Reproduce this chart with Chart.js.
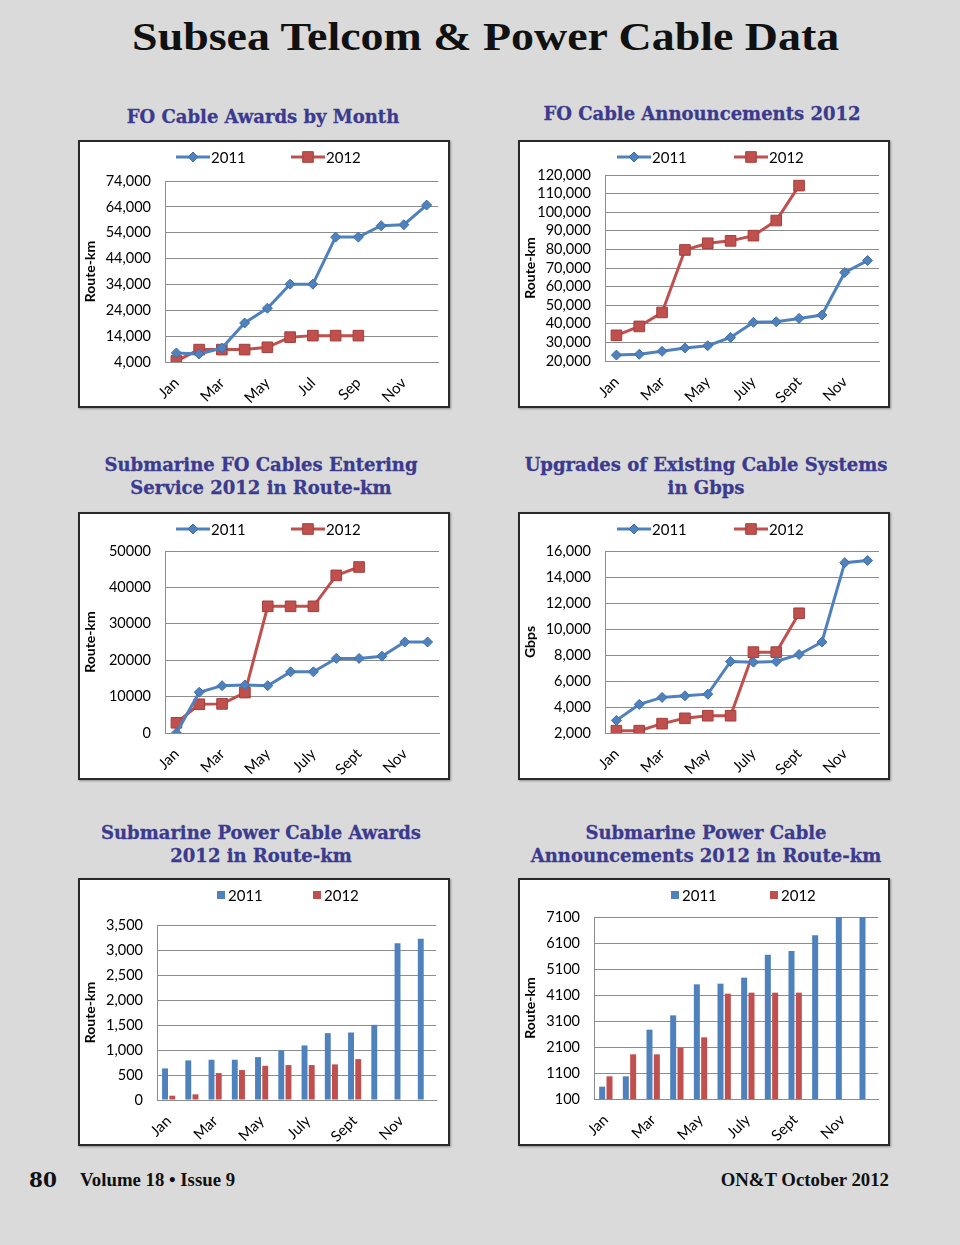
<!DOCTYPE html>
<html>
<head>
<meta charset="utf-8">
<script src="https://cdn.jsdelivr.net/npm/chart.js@4.4.1/dist/chart.umd.min.js"></script>
<style>
  body { margin: 0; background: #d9dad9; }
  #page { position: relative; width: 960px; height: 1245px; background: #d9dad9; overflow: hidden; }
  #mainTitle { position: absolute; left: 6px; width: 960px; top: 12px; text-align: center; }
  #mainTitle span { display: inline-block; transform: scaleX(1.12); font: bold 41px "Liberation Serif", serif; color: #111; }
  .ttl { position: absolute; width: 440px; text-align: center; color: #3b3a8f;
    font: bold 18px/23px "DejaVu Serif", serif; -webkit-text-stroke: 0.3px #3b3a8f; }
  .box { position: absolute; width: 368px; height: 264px; border: 2px solid #2a2a2a; background: #fff;
    box-shadow: 1px 1px 2px rgba(0,0,0,0.35); }
  .box canvas { display: block; }
  .foot { position: absolute; top: 1169px; font: bold 18.8px "Liberation Serif", serif; color: #111; }
</style>
</head>
<body>
<div id="page">
  <div id="mainTitle"><span>Subsea Telcom &amp; Power Cable Data</span></div>

  <div class="ttl" style="left:43px;top:105px">FO Cable Awards by Month</div>
  <div class="ttl" style="left:482px;top:102px">FO Cable Announcements 2012</div>
  <div class="ttl" style="left:41px;top:453px">Submarine FO Cables Entering<br>Service 2012 in Route-km</div>
  <div class="ttl" style="left:486px;top:453px">Upgrades of Existing Cable Systems<br>in Gbps</div>
  <div class="ttl" style="left:41px;top:821px">Submarine Power Cable Awards<br>2012 in Route-km</div>
  <div class="ttl" style="left:486px;top:821px">Submarine Power Cable<br>Announcements 2012 in Route-km</div>

  <div class="box" style="left:78px;top:140px"><canvas id="c1" width="368" height="264"></canvas></div>
  <div class="box" style="left:518px;top:140px"><canvas id="c2" width="368" height="264"></canvas></div>
  <div class="box" style="left:78px;top:512px"><canvas id="c3" width="368" height="264"></canvas></div>
  <div class="box" style="left:518px;top:512px"><canvas id="c4" width="368" height="264"></canvas></div>
  <div class="box" style="left:78px;top:878px"><canvas id="c5" width="368" height="265"></canvas></div>
  <div class="box" style="left:518px;top:878px"><canvas id="c6" width="368" height="265"></canvas></div>

  <div class="foot" style="left:29px;top:1168px;font:bold 20px 'DejaVu Serif',serif">80</div>
  <div class="foot" style="left:80px">Volume 18 • Issue 9</div>
  <div class="foot" style="right:71px">ON&amp;T October 2012</div>
</div>

<script>
// カテゴリ（月）
const monthsShort = ["Jan", "Feb", "Mar", "Apr", "May", "Jun", "Jul", "Aug", "Sep", "Oct", "Nov", "Dec"];
const monthsLong = ["Jan", "Feb", "Mar", "Apr", "May", "June", "July", "Aug", "Sept", "Oct", "Nov", "Dec"];
const seriesNames = ["2011", "2012"];

// FO Cable Awards by Month
const awards2011 = [7500, 7100, 9400, 19100, 24800, 34100, 34100, 52300, 52300, 56700, 57100, 64700];
const awards2012 = [4400, 8800, 8800, 8800, 9700, 13600, 14200, 14200, 14200];

// FO Cable Announcements 2012
const announce2011 = [23200, 23600, 25200, 27000, 28200, 32700, 40800, 41100, 42900, 44700, 67600, 74000];
const announce2012 = [33800, 38600, 46100, 79700, 83300, 84600, 87400, 95500, 114300];

// Submarine FO Cables Entering Service
const service2011 = [0, 11200, 13000, 13200, 13000, 16800, 16800, 20500, 20500, 21100, 25000, 25000];
const service2012 = [2800, 7900, 8000, 11100, 34800, 34800, 34800, 43300, 45600];

// Upgrades of Existing Cable Systems (Gbps)
const upgrades2011 = [2970, 4200, 4740, 4860, 4990, 7500, 7450, 7500, 8040, 9000, 15100, 15270];
const upgrades2012 = [2180, 2180, 2720, 3130, 3330, 3330, 8220, 8220, 11210];

// Submarine Power Cable Awards
const powerAwards2011 = [632, 792, 805, 805, 858, 991, 1091, 1337, 1350, 1503, 3134, 3227];
const powerAwards2012 = [86, 113, 539, 599, 685, 699, 699, 712, 818];

// Submarine Power Cable Announcements
const powerAnn2011 = [574, 972, 2767, 3318, 4510, 4536, 4767, 5651, 5792, 6395, 7100, 7100];
const powerAnn2012 = [972, 1818, 1818, 2074, 2472, 4151, 4190, 4190, 4190];

// 目盛り（min, max, step）
const yTicks1 = [4000, 74000, 10000];
const yTicks2 = [20000, 120000, 10000];
const yTicks3 = [0, 50000, 10000];
const yTicks4 = [2000, 16000, 2000];
const yTicks5 = [0, 3500, 500];
const yTicks6 = [100, 7100, 1000];

const BLUE = "#4f81bd";
const RED = "#c0504d";
const FONT = "Lato";

// Excel風の凡例（線＋マーカー / 四角）
const excelLegend = {
  id: "excelLegend",
  afterDraw(chart, args, opts) {
    const ctx = chart.ctx;
    ctx.save();
    ctx.font = `15px ${FONT}`;
    ctx.textBaseline = "middle";
    ctx.textAlign = "left";
    chart.data.datasets.forEach((ds, i) => {
      const x = opts.xs[i];
      const y = opts.y;
      if (opts.kind === "line") {
        ctx.strokeStyle = ds.borderColor;
        ctx.lineWidth = 3;
        ctx.beginPath();
        ctx.moveTo(x, y);
        ctx.lineTo(x + 34, y);
        ctx.stroke();
        ctx.fillStyle = ds.pointBackgroundColor;
        ctx.strokeStyle = ds.pointBorderColor;
        ctx.lineWidth = 1;
        Chart.helpers.drawPoint(ctx, { pointStyle: ds.pointStyle, radius: ds.pointRadius, rotation: 0, borderWidth: 1 }, x + 17, y);
        ctx.fillStyle = "#000";
        ctx.fillText(ds.label, x + 35, y + 1);
      } else {
        ctx.fillStyle = ds.backgroundColor;
        ctx.fillRect(x, y - 4, 8, 8);
        ctx.fillStyle = "#000";
        ctx.fillText(ds.label, x + 11, y + 1);
      }
    });
    ctx.restore();
  },
};

function makeChart(id, kind, labels, d2011, d2012, ticks, yTitle, comma, area, legendXs) {
  const [L, T, R, B] = area; // 枠からの距離
  const datasets =
    kind === "line"
      ? [
          {
            label: seriesNames[0], data: d2011, borderColor: BLUE, borderWidth: 3,
            pointStyle: "rectRot", pointRadius: 5, pointBackgroundColor: BLUE, pointBorderColor: "#3f6fa8",
            pointBorderWidth: 1, tension: 0,
          },
          {
            label: seriesNames[1], data: d2012, borderColor: RED, borderWidth: 3,
            pointStyle: "rect", pointRadius: 7.5, pointBackgroundColor: RED, pointBorderColor: "#a33f3c",
            pointBorderWidth: 1, tension: 0,
          },
        ]
      : [
          { label: seriesNames[0], data: d2011, backgroundColor: BLUE, categoryPercentage: 0.62, barPercentage: 0.82 },
          { label: seriesNames[1], data: d2012, backgroundColor: RED, categoryPercentage: 0.62, barPercentage: 0.82 },
        ];

  return new Chart(document.getElementById(id), {
    type: kind,
    data: { labels, datasets },
    plugins: [excelLegend],
    options: {
      responsive: false,
      animation: false,
      layout: { padding: { top: T - 2, right: R - 2, left: 0, bottom: 0 } },
      plugins: {
        legend: { display: false },
        tooltip: { enabled: false },
        excelLegend: { kind, xs: legendXs.map((v) => v - 2), y: 15 },
      },
      scales: {
        x: {
          offset: true,
          grid: { display: false },
          border: { display: true, color: "#8c8c8c", width: 1 },
          ticks: {
            autoSkip: false, minRotation: 45, maxRotation: 45, padding: 4,
            color: "#000", font: { family: FONT, size: 15 },
            callback: (v, i) => (i % 2 === 0 ? labels[i] : ""),
          },
          afterFit: (s) => { s.height = B - 2; },
        },
        y: {
          min: ticks[0], max: ticks[1],
          grid: { color: "#8c8c8c", lineWidth: 1, drawTicks: false },
          border: { display: true, color: "#8c8c8c", width: 1 },
          ticks: {
            stepSize: ticks[2], autoSkip: false, padding: 14, color: "#000", font: { family: FONT, size: 14.5 },
            callback: (v) => (comma ? Number(v).toLocaleString("en-US") : String(v)),
          },
          title: { display: true, text: yTitle, color: "#000", font: { family: FONT, size: 14, weight: "bold" }, padding: { top: 2, bottom: 0 } },
          afterFit: (s) => { s.width = L - 2; },
        },
      },
    },
  });
}

makeChart("c1", "line", monthsShort, awards2011, awards2012, yTicks1, "Route-km", true, [87, 41, 12, 46], [98, 213]);
makeChart("c2", "line", monthsLong, announce2011, announce2012, yTicks2, "Route-km", true, [87, 35, 11, 47], [99, 216]);
makeChart("c3", "line", monthsLong, service2011, service2012, yTicks3, "Route-km", false, [87, 39, 11, 47], [98, 213]);
makeChart("c4", "line", monthsLong, upgrades2011, upgrades2012, yTicks4, "Gbps", true, [87, 39, 11, 47], [99, 216]);
makeChart("c5", "bar", monthsLong, powerAwards2011, powerAwards2012, yTicks5, "Route-km", true, [79, 47, 14, 47], [139, 235]);
makeChart("c6", "bar", monthsLong, powerAnn2011, powerAnn2012, yTicks6, "Route-km", false, [76, 39, 12, 48], [153, 252]);
</script>
</body>
</html>
